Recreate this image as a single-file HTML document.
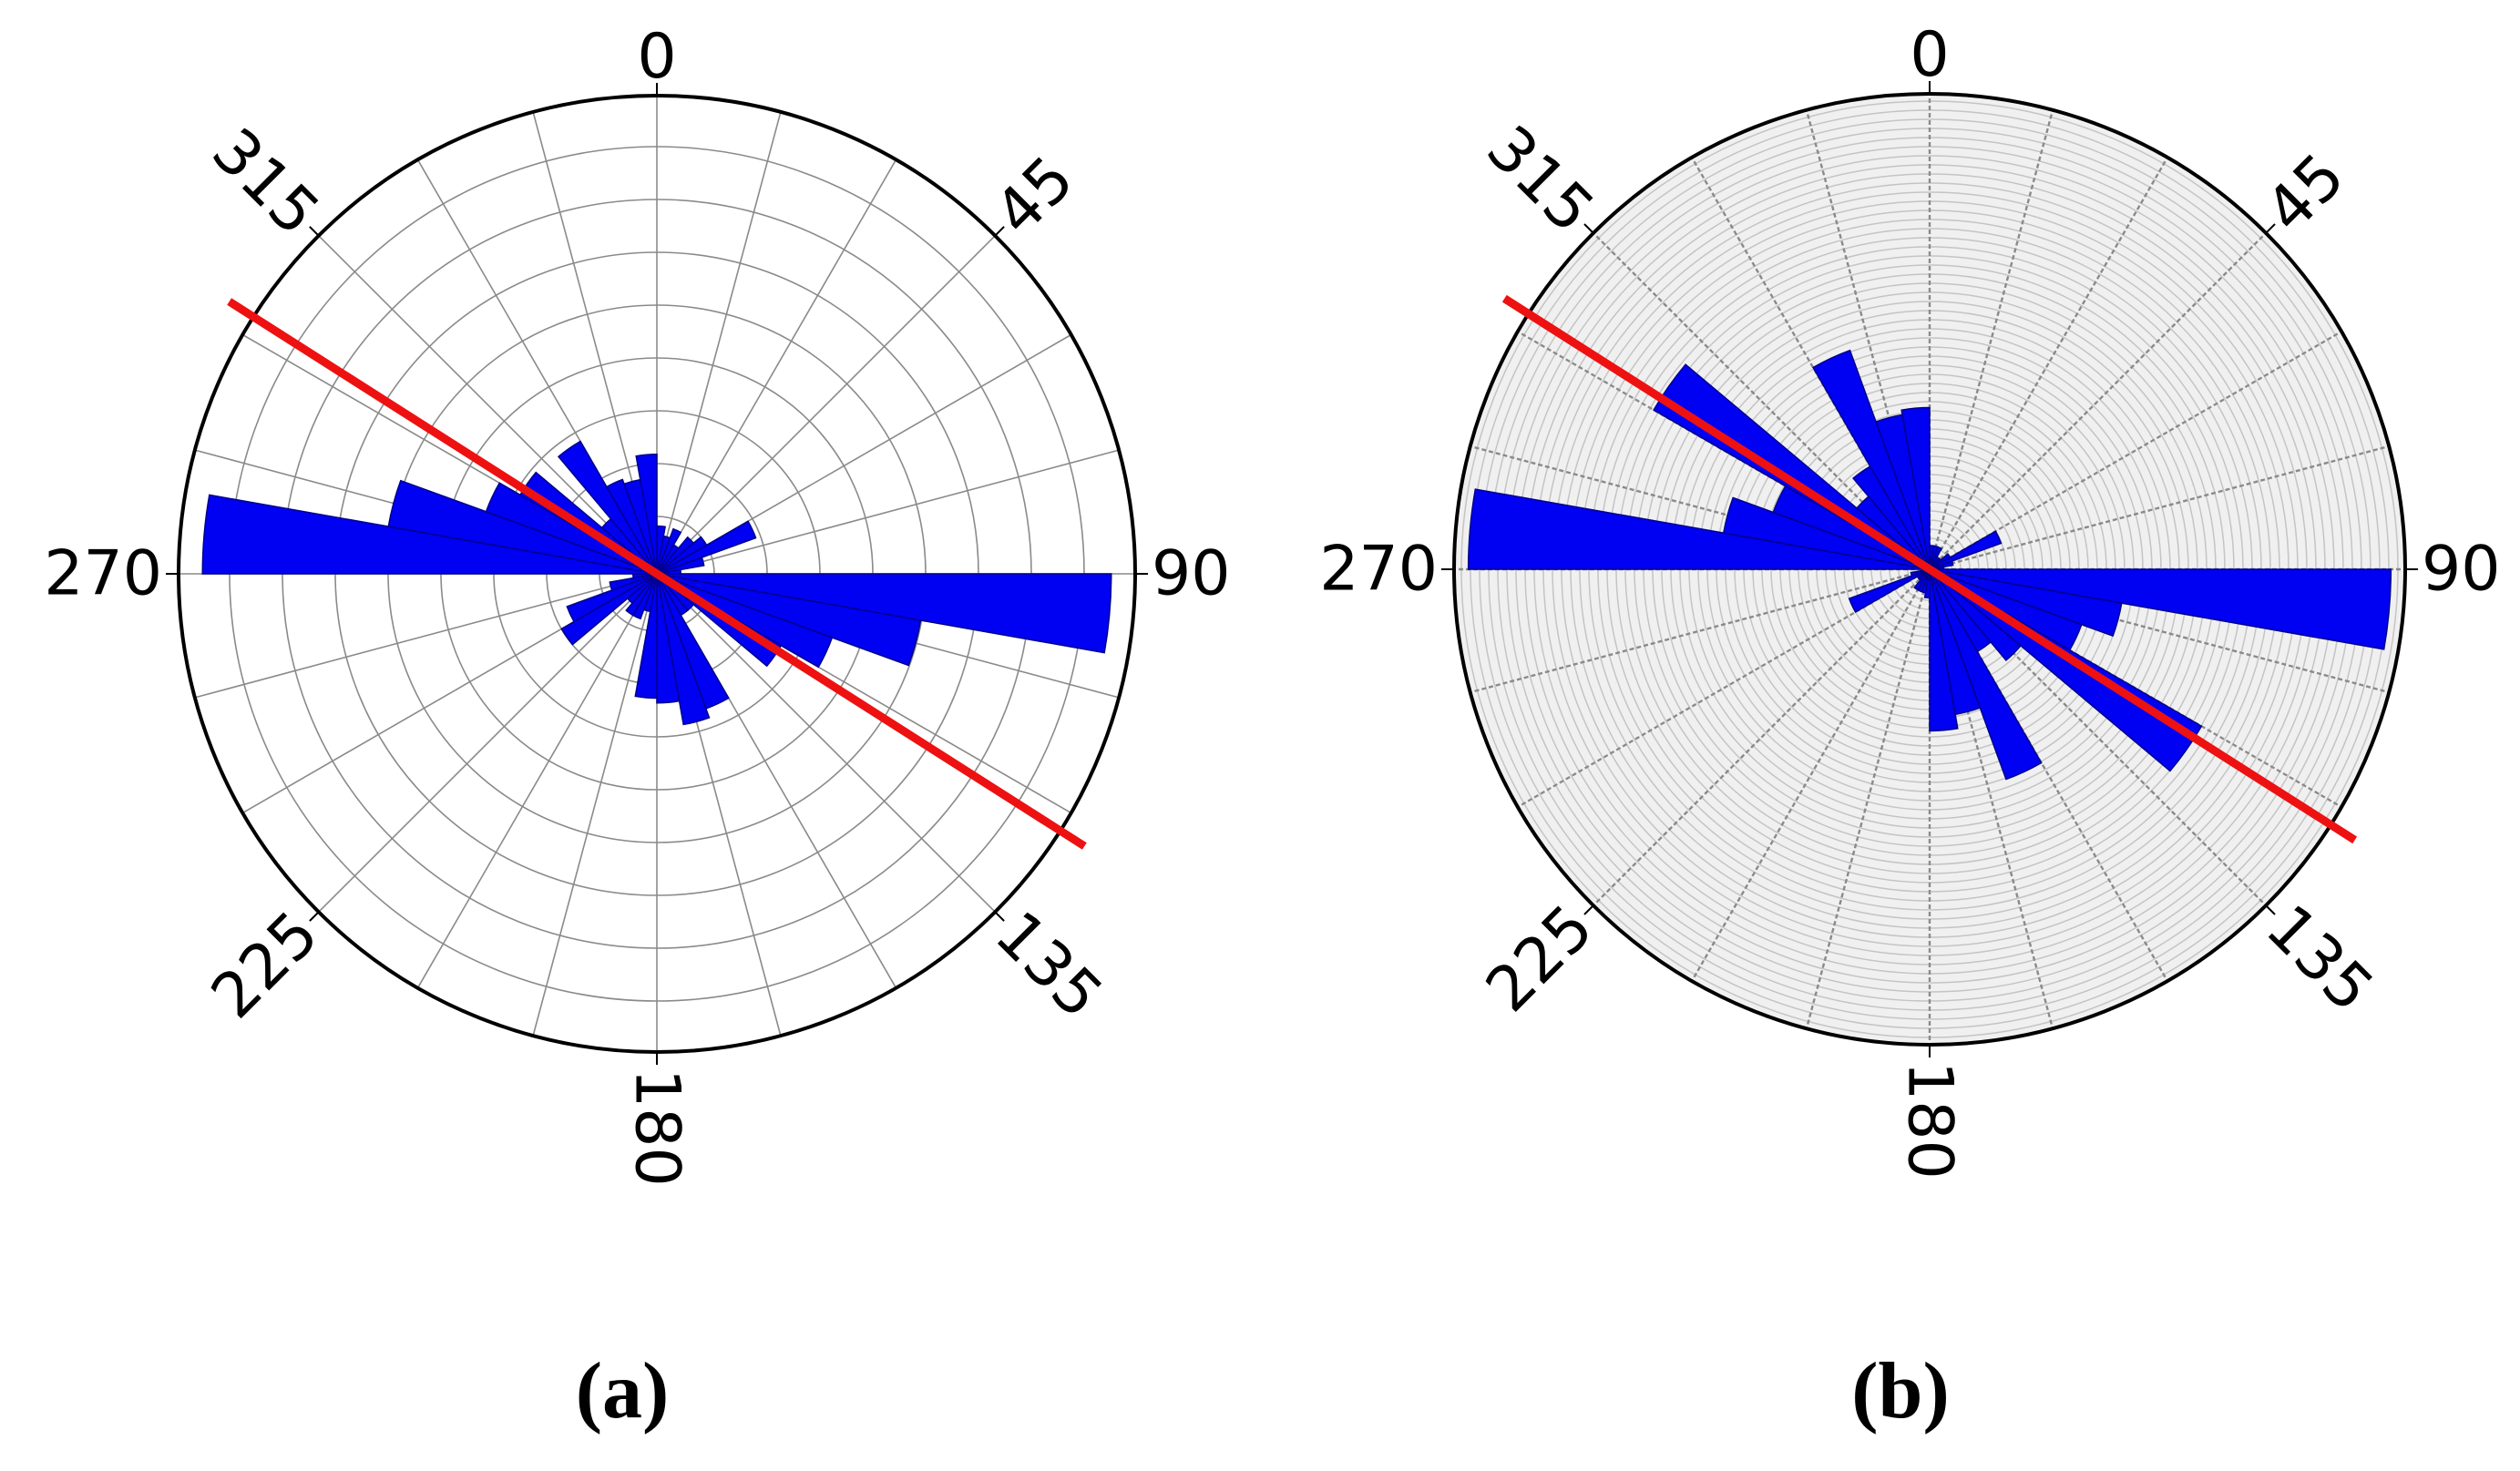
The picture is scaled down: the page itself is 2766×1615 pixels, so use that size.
<!DOCTYPE html>
<html><head><meta charset="utf-8"><style>
html,body{margin:0;padding:0;background:#fff}
svg{display:block}
text{font-family:"DejaVu Sans","Liberation Sans",sans-serif}
text.panel{font-family:"Liberation Serif",serif;font-weight:bold}
</style></head><body>
<svg id="fig" width="2766" height="1615" viewBox="0 0 2766 1615" xmlns="http://www.w3.org/2000/svg">
<text class="panel" x="683" y="1556" text-anchor="middle" font-size="88" style="font-family:'Liberation Serif',serif;font-weight:bold">(a)</text>
<text class="panel" x="2086" y="1556" text-anchor="middle" font-size="88" style="font-family:'Liberation Serif',serif;font-weight:bold">(b)</text>
</svg>
<script>
// bin start angles (deg, compass, clockwise from north), 10° bins
const binStarts = [0,10,20,30,40,50,60,70,80,90,100,110,120,130,140,150,160,170,180,190,200,210,220,230,240,250,260,270,280,290,300,310,320,330,340,350];
// panel (a) relative frequency (fraction of outer radius)
const valuesA = [0.10,0.08,0.10,0.07,0.10,0.12,0.22,0.10,0.05,0.95,0.56,0.39,0.30,0.10,0.10,0.30,0.32,0.27,0.26,0.08,0.10,0.10,0.08,0.23,0.20,0.10,0.05,0.95,0.57,0.38,0.33,0.15,0.32,0.21,0.20,0.25];
// panel (b)
const valuesB = [0.05,0.05,0.05,0.03,0.03,0.05,0.16,0.05,0.03,0.97,0.41,0.34,0.66,0.25,0.20,0.47,0.31,0.34,0.06,0.05,0.05,0.05,0.03,0.03,0.18,0.04,0.00,0.97,0.44,0.35,0.67,0.20,0.25,0.49,0.33,0.34];
const tickAngles = [0,45,90,135,180,225,270,315];
const tickLabels = ["0","45","90","135","180","225","270","315"];
const trendAngles = [122.5, 122.5]; // red trend line bearing for (a),(b)

const NS="http://www.w3.org/2000/svg";
const svg=document.getElementById('fig');
function mk(tag,attrs,parent){const e=document.createElementNS(NS,tag);for(const k in attrs)e.setAttribute(k,attrs[k]);(parent||svg).appendChild(e);return e;}

function drawPanel(cx,cy,R,values,style,idx){
  const g=mk('g',{});
  
  
  const pt=(deg,r)=>{const a=deg*Math.PI/180;return [cx+r*Math.sin(a),cy-r*Math.cos(a)];};
  const rScale=v=>v*R;
  mk('circle',{cx,cy,r:R,fill:style==='b'?'#f0f0f0':'#fff'},g);
  if(style==='a'){
    for(let k=0;k<8;k++){const c=mk('circle',{cx,cy,r:469-58*k,fill:'none',stroke:'#8a8a8a','stroke-width':1.6},g);
      
      }
  } else {
    for(let r=R-8;r>8;r-=10){const c=mk('circle',{cx,cy,r,fill:'none',stroke:'#c4c4c4','stroke-width':1.5},g);
      
      }
  }
  for(let d=0;d<360;d+=15){const p=pt(d,R);
    const l=mk('line',{x1:cx,y1:cy,x2:p[0],y2:p[1],stroke:style==='a'?'#8a8a8a':'#8a8a8a','stroke-width':style==='a'?1.6:2.4,'stroke-dasharray':style==='a'?'none':'5 3'},g);
    
    }
  binStarts.forEach((b,i)=>{const r=rScale(values[i]);if(r<=0)return;
    const p1=pt(b,r),p2=pt(b+10,r);
    const w=mk('path',{d:`M${cx},${cy}L${p1[0]},${p1[1]}A${r},${r} 0 0 1 ${p2[0]},${p2[1]}Z`,fill:'#0000f2',stroke:'#00008c','stroke-width':1.5},g);
    
    });
  const oc=mk('circle',{cx,cy,r:R,fill:'none',stroke:'#000','stroke-width':4},g);
  
  
  tickAngles.forEach((d,i)=>{const p1=pt(d,R),p2=pt(d,R+14);
    mk('line',{x1:p1[0],y1:p1[1],x2:p2[0],y2:p2[1],stroke:'#000','stroke-width':2},g);
    let q=pt(d,R+18),anchor='start',rot=0,base='central';
    if(d===0){anchor='middle';base='auto';q=pt(d,R+20);}
    else if(d===90){anchor='start';}
    else if(d===270){anchor='end';}
    else if(d===180){rot=90;}
    else if(d===45){rot=-45;}
    else if(d===135){rot=45;}
    else if(d===225){rot=-45;anchor='end';}
    else if(d===315){rot=45;anchor='end';}
    const t=mk('text',{x:q[0],y:q[1],'text-anchor':anchor,'dominant-baseline':base,'font-size':68,fill:'#000',transform:`rotate(${rot} ${q[0]} ${q[1]})`},g);
    t.textContent=tickLabels[i];
    
    
  });
  const a=trendAngles[idx],e1=pt(a,R*1.06),e2=pt(a+180,R*1.06);
  const tl=mk('line',{x1:e1[0],y1:e1[1],x2:e2[0],y2:e2[1],stroke:'#ee1111','stroke-width':9},g);
  
  
}
drawPanel(721,630,525,valuesA,'a',0);
drawPanel(2118,625,522,valuesB,'b',1);
</script>
</body></html>
